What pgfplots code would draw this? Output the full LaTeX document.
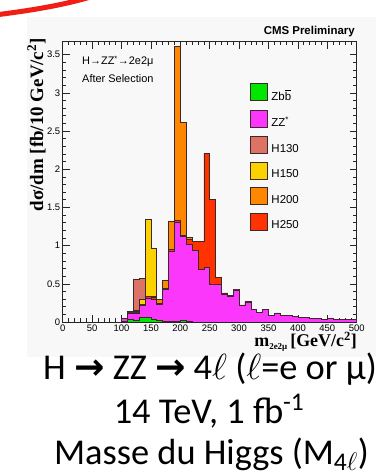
\RequirePackage{fix-cm}
\documentclass[border=0pt]{standalone}
\usepackage{pgfplots}
\pgfplotsset{compat=1.18}
\usepackage{fontspec}
\setmainfont{Carlito}
\newfontfamily\arial{Liberation Sans}
\newfontfamily\timesf{Liberation Serif}
\newfontfamily\dejavu{DejaVu Sans}
\definecolor{bg}{RGB}{248,248,248}
\definecolor{czbb}{RGB}{0,230,0}
\definecolor{czz}{RGB}{250,55,250}
\definecolor{ch130}{RGB}{220,115,100}
\definecolor{ch150}{RGB}{250,210,0}
\definecolor{ch200}{RGB}{255,135,0}
\definecolor{ch250}{RGB}{255,50,0}
\definecolor{edge}{RGB}{60,40,40}
\definecolor{swoosh}{RGB}{240,30,20}
\begin{document}
\begin{tikzpicture}[x=1bp,y=1bp]
\useasboundingbox (0,0) rectangle (376,476);
\fill[bg] (27,119) rectangle (376,459);
\draw[swoosh, line width=5bp] (-5,461) .. controls (35,466) and (70,472) .. (100,482);
\begin{axis}[
  scale only axis, width=294bp, height=280.3bp,
  at={(62.7bp,154bp)}, anchor=south west,
  xmin=0, xmax=500, ymin=0, ymax=3.67,
  axis background/.style={fill=bg},
  axis line style={line width=0.8bp, black!85},
  xtick={0,50,...,500}, ytick={0,0.5,...,3.5},
  minor x tick num=4, minor y tick num=4,
  tick align=inside,
  major tick length=7bp, minor tick length=3.5bp,
  tick style={black!85, line width=0.6bp},
  ticklabel style={font=\arial\fontsize{9.5}{10}\selectfont},
  /pgf/number format/assume math mode=true,
  yticklabel style={/pgf/number format/fixed, /pgf/number format/precision=1, xshift=1bp},
  xticklabel style={yshift=1bp},
  legend style={at={(0.637,0.853)}, anchor=north west, draw=none, fill=none,
    inner sep=0pt, outer sep=0pt, row sep=7.8bp,
    font=\arial\fontsize{11.5}{12}\selectfont, nodes={inner sep=0pt}},
  legend cell align=left,
  legend image code/.code={\draw[#1, line width=0.6bp] (0bp,-4.3bp) rectangle (17bp,12.7bp); \path (21bp,0bp);},
]
% H130
\addplot[const plot, fill=ch130, draw=edge, line width=0.6bp, forget plot] coordinates {
(100,0.05) (110,0.14) (120,0.56) (130,0.57) (140,0.32) (150,0.31) (160,0.235) (170,0.43) (180,0.43)} \closedcycle;
% H150
\addplot[const plot, fill=ch150, draw=edge, line width=0.6bp, forget plot] coordinates {
(100,0.05) (110,0.13) (120,0.15) (130,0.30) (140,1.34) (150,0.96) (160,0.24) (170,0.435) (180,0.435)} \closedcycle;
% H200
\addplot[const plot, fill=ch200, draw=edge, line width=0.6bp, forget plot] coordinates {
(100,0.05) (110,0.12) (120,0.14) (130,0.23) (140,0.34) (150,0.34) (160,0.30) (170,0.54) (180,1.32) (190,3.61) (200,2.61) (210,1.11) (220,0.95) (230,0.70) (240,0.72) (250,0.50) (260,0.50) (270,0.37) (280,0.37)} \closedcycle;
% H250
\addplot[const plot, fill=ch250, draw=edge, line width=0.6bp, forget plot] coordinates {
(100,0.05) (110,0.115) (120,0.125) (130,0.225) (140,0.335) (150,0.32) (160,0.24) (170,0.44) (180,0.95) (190,1.33) (200,1.13) (210,1.08) (220,1.06) (230,1.06) (240,2.21) (250,1.61) (260,0.58) (270,0.38) (280,0.35) (290,0.425) (300,0.225) (310,0.265) (320,0.165) (330,0.165)} \closedcycle;
% ZZ*
\addplot[const plot, fill=czz, draw=edge, line width=0.6bp, forget plot] coordinates {
(100,0.045) (110,0.11) (120,0.12) (130,0.22) (140,0.31) (150,0.30) (160,0.23) (170,0.43) (180,0.93) (190,1.30)
(200,1.12) (210,1.02) (220,0.94) (230,0.69) (240,0.71) (250,0.50) (260,0.49) (270,0.365) (280,0.33) (290,0.42)
(300,0.22) (310,0.26) (320,0.16) (330,0.13) (340,0.17) (350,0.09) (360,0.12) (370,0.09) (380,0.085) (390,0.07)
(400,0.06) (410,0.055) (420,0.045) (430,0.05) (440,0.035) (450,0.045) (460,0.03) (470,0.035) (480,0.03) (490,0.035) (500,0.035)} \closedcycle;
% Zbb
\addplot[const plot, fill=czbb, draw=edge, line width=0.6bp, forget plot] coordinates {
(100,0.003) (110,0.035) (120,0.025) (130,0.055) (140,0.055) (150,0.04) (160,0.025) (170,0.01) (180,0.005) (190,0.01) (200,0.02) (210,0.005) (220,0.005)} \closedcycle;
\addlegendimage{fill=czbb, draw=edge}
\addlegendentry{Zb$\overline{\mbox{b}}$}
\addlegendimage{fill=czz, draw=edge}
\addlegendentry{ZZ\textsuperscript{*}}
\addlegendimage{fill=ch130, draw=edge}
\addlegendentry{H130}
\addlegendimage{fill=ch150, draw=edge}
\addlegendentry{H150}
\addlegendimage{fill=ch200, draw=edge}
\addlegendentry{H200}
\addlegendimage{fill=ch250, draw=edge}
\addlegendentry{H250}
\end{axis}
\node[anchor=base east, font=\arial\bfseries\fontsize{11.5}{12}\selectfont, inner sep=0pt] at (355,441) {CMS Preliminary};
\node[anchor=base west, font=\arial\fontsize{11}{12}\selectfont, inner sep=0pt] at (82,411) {H→ZZ\textsuperscript{*}→2e2μ};
\node[anchor=base west, font=\arial\fontsize{11}{12}\selectfont, inner sep=0pt] at (82,393) {After Selection};
\node[rotate=90, anchor=base east, font=\timesf\bfseries\fontsize{19}{19}\selectfont, inner sep=0pt] at (43,438) {dσ/dm [fb/10 GeV/c\textsuperscript{2}]};
\node[anchor=base east, font=\timesf\bfseries\fontsize{18}{18}\selectfont, inner sep=0pt] at (357,129) {m\raisebox{-3bp}{\fontsize{9}{9}\selectfont 2e2μ}\,[GeV/c\textsuperscript{2}]};
\node[anchor=base, font=\fontsize{36.5}{36.5}\selectfont, inner sep=0pt] at (210,96) {H {\dejavu\bfseries →} ZZ {\dejavu\bfseries →} 4$\ell$ ($\ell$=e or μ)};
\node[anchor=base, font=\fontsize{36.5}{36.5}\selectfont, inner sep=0pt] at (209,52) {14 TeV, 1 fb\textsuperscript{-1}};
\node[anchor=base, font=\fontsize{36.5}{36.5}\selectfont, inner sep=0pt] at (211.5,11) {Masse du Higgs (M\textsubscript{4$\ell$})};
\end{tikzpicture}
\end{document}
